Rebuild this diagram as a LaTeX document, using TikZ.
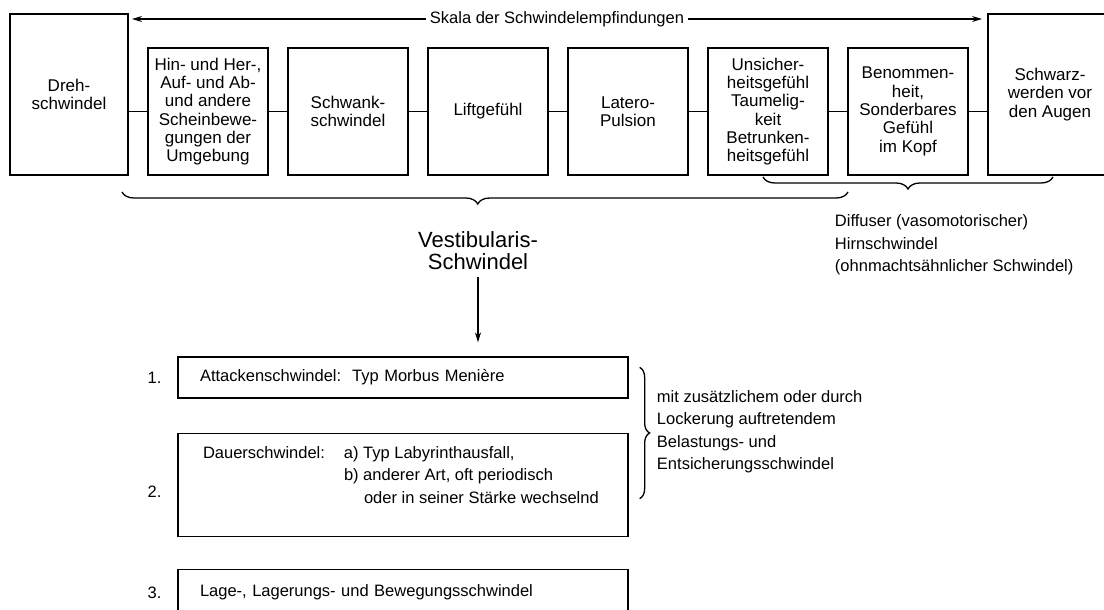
\documentclass[tikz,border=0pt]{standalone}
\usepackage{fontspec}
\setmainfont{Liberation Sans}
\usetikzlibrary{positioning, calc, arrows.meta, decorations.pathreplacing}

\begin{document}
\begin{tikzpicture}[x=1pt, y=-1pt, >={Stealth[length=10pt, width=6pt]}, line width=1.3pt,
	font=\fontsize{16.5}{22.5}\selectfont, node distance=20pt,
	empf/.style={draw, minimum width=120pt, minimum height=127pt, align=center, inner sep=2pt, outer sep=0pt, font=\fontsize{17}{18.3}\selectfont},
	typ/.style={draw, text width=406pt, inner xsep=22pt, minimum height=41pt, align=left}]

\useasboundingbox (0,0) rectangle (1104,610);

% Skala der Empfindungen
\node[empf] (hin) at (208,111.5) {Hin- und Her-,\\Auf- und Ab-\\und andere\\Scheinbewe-\\gungen der\\Umgebung};
\node[empf, right=of hin] (schwank) {Schwank-\\schwindel};
\node[empf, right=of schwank] (lift) {Liftgefühl};
\node[empf, right=of lift] (latero) {Latero-\\Pulsion};
\node[empf, right=of latero] (unsicher) {Unsicher-\\heitsgefühl\\Taumelig-\\keit\\Betrunken-\\heitsgefühl};
\node[empf, right=of unsicher] (benommen) {Benommen-\\heit,\\Sonderbares\\Gefühl\\im Kopf};
\node[empf, minimum width=118pt, minimum height=161pt, left=of hin.south west, anchor=south east] (dreh) {Dreh-\\schwindel};
\node[empf, minimum width=124pt, minimum height=161pt, right=of benommen.south east, anchor=south west] (schwarz) {Schwarz-\\werden vor\\den Augen};

\draw (dreh.east |- hin) -- (hin);
\foreach \a/\b in {hin/schwank, schwank/lift, lift/latero, latero/unsicher, unsicher/benommen}
	\draw (\a) -- (\b);
\draw (benommen) -- (benommen -| schwarz.west);

\coordinate (skL) at ([xshift=4pt, yshift=-5pt]dreh.north east);
\coordinate (skR) at ([xshift=-6pt, yshift=-5pt]schwarz.north west);
\node[inner sep=3.5pt] (skala) at ($(skL)!0.5!(skR)$) {Skala der Schwindelempfindungen};
\draw[->] (skala) -- (skL);
\draw[->] (skala) -- (skR);

% Klammern
\draw[decorate, decoration={brace, mirror, amplitude=12pt, aspect=0.49}] ([xshift=-26pt, yshift=-17pt]hin.south west) -- ([yshift=-17pt]benommen.south west);
\draw[decorate, decoration={brace, mirror, amplitude=12pt}] ([xshift=-5pt, yshift=-2pt]unsicher.south) -- ([xshift=65pt, yshift=-2pt]schwarz.south west);

\node[anchor=west, align=left] (diffus) at (831,245) {Diffuser (vasomotorischer)\\Hirnschwindel\\(ohnmachtsähnlicher Schwindel)};
\node[align=center, font=\fontsize{22}{22}\selectfont] (vest) at (478,251) {Vestibularis-\\Schwindel};

% Formen
\node[typ] (attacke) at (403,377.5) {Attackenschwindel:\ \ Typ Morbus Menière};
\node[typ, minimum height=103pt, below=34pt of attacke] (dauer) {};
\node[typ, minimum height=46pt, below=32pt of dauer] (lage) {Lage-, Lagerungs- und Bewegungsschwindel};
\node[anchor=north west, inner sep=0pt, align=left] (dauertext) at ([xshift=25pt, yshift=-13pt]dauer.north west)
	{\makebox[141pt][l]{Dauerschwindel:}a) Typ Labyrinthausfall,\\
	\hspace*{141pt}b) anderer Art, oft periodisch\\
	\hspace*{161pt}oder in seiner Stärke wechselnd};

\node[left=12pt of attacke] (n1) {1.};
\node[left=12pt of dauer, yshift=-7pt] (n2) {2.};
\node[left=12pt of lage] (n3) {3.};

\draw[->, shorten <=3pt, shorten >=14pt] (vest.south) -- (vest.south |- attacke.north);

\draw[decorate, decoration={brace, amplitude=10pt}] ([xshift=11pt, yshift=-11pt]attacke.north east) -- ([xshift=11pt, yshift=-66pt]dauer.north east);
\node[anchor=west, align=left] (zusatz) at (653,431.5) {mit zusätzlichem oder durch\\Lockerung auftretendem\\Belastungs- und\\Entsicherungsschwindel};

\end{tikzpicture}
\end{document}
